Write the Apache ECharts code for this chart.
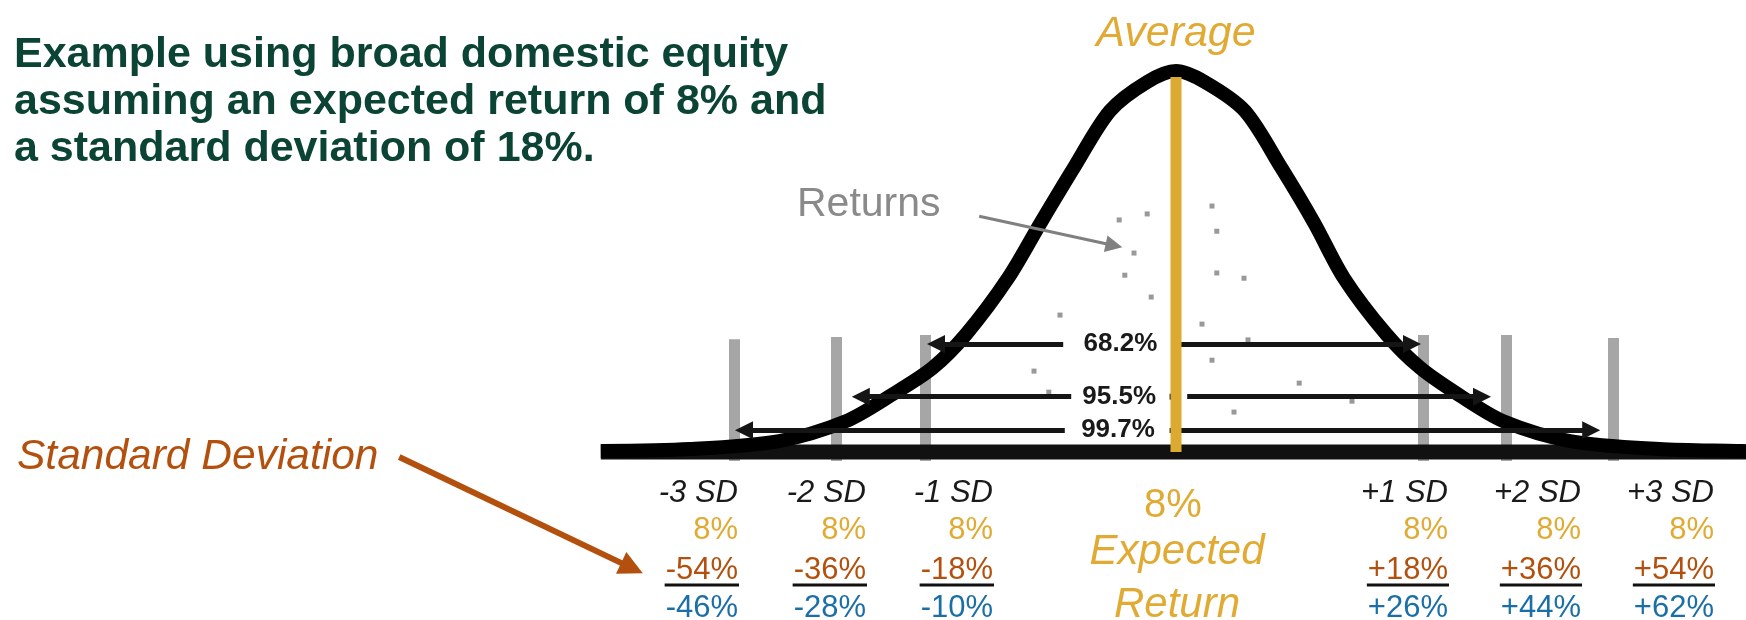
<!DOCTYPE html>
<html>
<head>
<meta charset="utf-8">
<script src="https://cdn.jsdelivr.net/npm/echarts@6/dist/echarts.min.js"></script>
<style>
html, body { margin: 0; padding: 0; background: #fff; }
#chart { width: 1746px; height: 620px; }
</style>
</head>
<body>
<div id="chart"></div>
<script>
// x = return in %, y = relative frequency (peak of the bell = 100)
// bell curve
var curveX = [-63.9, -52.75, -41.6, -33.25, -27.6, -22.4, -18.2, -13.0, -8.9, -4.7, -0.25, 4.4, 8,
              11.6, 16.6, 21.1, 25.25, 29, 34.25, 38.5, 43.4, 48.9, 57.25, 68.4, 78.1, 79.25];
var curveY = [-1.06, -0.53, 1.6, 6.9, 13.8, 21.1, 30.1, 44.9, 59.7, 74.5, 89.4, 97.1, 100,
              97.1, 89.4, 74.5, 59.7, 44.9, 30.1, 21.1, 13.8, 6.9, 1.6, -0.53, -1.06, -1.1];

var axisStart = -63.9;
var axisEnd = 79.25;
var axisLevel = -1.3;

var avgReturn = 8;
var avgTop = 98.4;

// grey standard deviation markers
var sdBarX = [-47.2, -34.5, -23.3, 38.9, 49.25, 62.7];
var sdBarTop = [28.7, 29.3, 29.8, 29.8, 29.8, 29.0];
var sdBarBottom = -3.7;

// scattered returns
var returnsX = [0.9, 4.4, 2.75, 1.6, 4.9, -6.5, -9.75, -7.9, 12.5, 13.1, 13.1, 16.5, 11.25, 17, 12.5, 23.4, 30, 15.25];
var returnsY = [60.4, 62.0, 51.6, 45.7, 39.9, 35.1, 20.2, 14.6, 64.1, 57.4, 46.3, 44.9, 32.7, 28.5, 23.1, 17.0, 12.2, 9.3];

// probability ranges
var rangeLabels = ['68.2%', '95.5%', '99.7%'];
var rangeLevel = [27.4, 13.4, 4.5];
var rangeLabelX = [1.06, 0.9, 0.75];
var rangeLeftInner = [-6.1, -5.1, -5.9];
var rangeLeftTip = [-22, -31.4, -46];
var rangeRightInner = [8.6, 9.4, 7.2];
var rangeRightTip = [37.5, 46.25, 59.9];

// table under the curve
var sdLabels = ['-3 SD', '-2 SD', '-1 SD', '+1 SD', '+2 SD', '+3 SD'];
var expectedReturn = [8, 8, 8, 8, 8, 8];
var sdMoves = [-54, -36, -18, 18, 36, 54];
var totalReturn = [-46, -28, -10, 26, 44, 62];

var titleLines = ['Example using broad domestic equity', 'assuming an expected return of 8% and', 'a standard deviation of 18%.'];

var FONT = '"Liberation Sans", Arial, Helvetica, sans-serif';
var GREEN = '#0b4434';
var GOLD = '#e0aa33';
var BROWN = '#b4500e';
var BLUE = '#1b6fa7';
var GREY = '#8a8a8a';

var measureCtx = document.createElement('canvas').getContext('2d');
function textWidth(str, font) {
	measureCtx.font = font;
	return measureCtx.measureText(str).width;
}
function pct(v, signed) {
	return (signed && v > 0 ? '+' : '') + v + '%';
}
function label(x, y, text, fill, font, align) {
	return { type: 'text', z: 10, silent: true,
		style: { x: x, y: y, text: text, fill: fill, font: font, align: align || 'left', verticalAlign: 'middle' } };
}

var chart = echarts.init(document.getElementById('chart'));

var rangeLines = [];
for (var k = 0; k < rangeLabels.length; k++) {
	rangeLines.push({ coords: [[rangeLeftInner[k], rangeLevel[k]], [rangeLeftTip[k], rangeLevel[k]]] });
	rangeLines.push({ coords: [[rangeRightInner[k], rangeLevel[k]], [rangeRightTip[k], rangeLevel[k]]] });
}

chart.setOption({
	animation: false,
	grid: { left: 0, right: 0, top: 0, bottom: 0 },
	xAxis: { type: 'value', min: -139, max: 79.25, show: false },
	yAxis: { type: 'value', min: -46, max: 118.9, show: false },
	series: [
		{
			type: 'lines', coordinateSystem: 'cartesian2d', z: 1, silent: true,
			symbol: 'none',
			lineStyle: { color: '#a6a6a6', width: 11, opacity: 1 },
			data: sdBarX.map(function (x, i) { return { coords: [[x, sdBarBottom], [x, sdBarTop[i]]] }; })
		},
		{
			type: 'line', z: 2, silent: true, showSymbol: false,
			lineStyle: { color: '#111', width: 15, cap: 'butt' },
			data: [[axisStart, axisLevel], [axisEnd, axisLevel]]
		},
		{
			type: 'line', z: 3, silent: true, showSymbol: false, smooth: 0.3,
			lineStyle: { color: '#000', width: 14 },
			data: curveX.map(function (x, i) { return [x, curveY[i]]; })
		},
		{
			type: 'scatter', z: 4, silent: true, symbol: 'rect', symbolSize: 5,
			itemStyle: { color: '#808080' },
			data: returnsX.map(function (x, i) { return [x, returnsY[i]]; })
		},
		{
			type: 'lines', coordinateSystem: 'cartesian2d', z: 5, silent: true,
			symbol: ['none', 'triangle'], symbolSize: [16, 18],
			lineStyle: { color: '#151515', width: 5, opacity: 1 },
			data: rangeLines
		},
		{
			type: 'line', z: 5, silent: true, showSymbol: false,
			lineStyle: { color: '#151515', width: 6, cap: 'butt' },
			data: [[7.2, rangeLevel[1]], [8.1, rangeLevel[1]]]
		},
		{
			type: 'line', z: 6, silent: true, showSymbol: false,
			lineStyle: { color: '#dcaa30', width: 11, cap: 'butt' },
			data: [[avgReturn, axisLevel], [avgReturn, avgTop]]
		},
		{
			type: 'lines', coordinateSystem: 'cartesian2d', z: 5, silent: true,
			symbol: ['none', 'triangle'], symbolSize: [14, 17],
			lineStyle: { color: '#808080', width: 3, opacity: 1 },
			data: [{ coords: [[-16.6, 61.4], [0.25, 53.6]] }]
		},
		{
			type: 'lines', coordinateSystem: 'cartesian2d', z: 5, silent: true,
			symbol: ['none', 'triangle'], symbolSize: [22, 24],
			lineStyle: { color: BROWN, width: 6, opacity: 1 },
			data: [{ coords: [[-89.1, -2.66], [-60, -32.2]] }]
		}
	]
});

var graphics = [];
for (var i = 0; i < titleLines.length; i++) {
	graphics.push(label(14, 55 + i * 47, titleLines[i], GREEN, 'bold 43px ' + FONT));
}
graphics.push(label(1176, 34, 'Average', GOLD, 'italic 43px ' + FONT, 'center'));
graphics.push(label(797, 205, 'Returns', GREY, '41px ' + FONT));
graphics.push(label(17, 457, 'Standard Deviation', BROWN, 'italic 42.5px ' + FONT));
graphics.push(label(1173, 506, pct(avgReturn), GOLD, '40px ' + FONT, 'center'));
graphics.push(label(1177, 552, 'Expected', GOLD, 'italic 42px ' + FONT, 'center'));
graphics.push(label(1177, 605, 'Return', GOLD, 'italic 42px ' + FONT, 'center'));

for (var k = 0; k < rangeLabels.length; k++) {
	var p = chart.convertToPixel({ gridIndex: 0 }, [rangeLabelX[k], rangeLevel[k]]);
	graphics.push(label(p[0], p[1], rangeLabels[k], '#1a1a1a', 'bold 26px ' + FONT, 'center'));
}

var colRight = [738, 866, 993, 1448, 1581, 1714];
var rowY = [493, 530, 570, 608];
var rowFont = '31px ' + FONT;
for (var c = 0; c < sdLabels.length; c++) {
	var x = colRight[c];
	graphics.push(label(x, rowY[0], sdLabels[c], '#1a1a1a', 'italic ' + rowFont, 'right'));
	graphics.push(label(x, rowY[1], pct(expectedReturn[c]), GOLD, rowFont, 'right'));
	graphics.push(label(x, rowY[2], pct(sdMoves[c], true), BROWN, rowFont, 'right'));
	graphics.push(label(x, rowY[3], pct(totalReturn[c], true), BLUE, rowFont, 'right'));
	var w = textWidth(pct(sdMoves[c], true), rowFont);
	graphics.push({ type: 'line', z: 10, silent: true, shape: { x1: x - w - 1, y1: 585, x2: x + 1, y2: 585 },
		style: { stroke: '#111', lineWidth: 3 } });
}

chart.setOption({ graphic: graphics });
</script>
</body>
</html>
